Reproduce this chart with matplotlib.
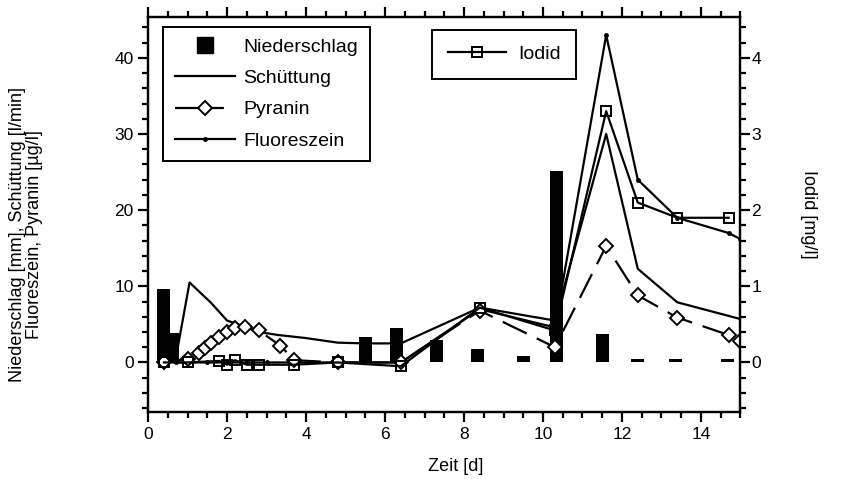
import matplotlib
matplotlib.use("Agg")
import matplotlib.pyplot as plt
from matplotlib.lines import Line2D
from matplotlib.ticker import MultipleLocator

plt.rcParams['font.family'] = ['Liberation Sans', 'DejaVu Sans']
plt.rcParams['axes.linewidth'] = 1.6

# Niederschlag [mm]
rain_t = [0.38, 0.63, 5.5, 6.3, 7.3, 8.35, 9.5, 10.35, 11.5, 12.4, 13.35, 14.67]
rain_v = [9.7, 3.9, 3.3, 4.5, 3.0, 1.8, 0.8, 25.1, 3.8, 0.4, 0.4, 0.4]

# Schüttung [l/min]
flow_t = [0.4, 0.7, 1.05, 1.6, 2.0, 2.4, 2.8, 3.3, 4.0, 4.8, 5.5, 6.4, 8.4, 10.3, 11.6, 12.4, 13.4, 15.0]
flow_v = [0.3, 0.5, 10.5, 7.8, 5.5, 4.8, 4.0, 3.6, 3.2, 2.6, 2.5, 2.5, 7.2, 5.5, 30.0, 12.3, 7.9, 5.7]

# Pyranin [µg/l]
pyr_t = [0.4, 1.0, 1.3, 1.45, 1.6, 1.8, 2.0, 2.2, 2.45, 2.8, 3.35, 3.7, 4.8, 6.4, 8.4, 10.3, 11.6, 12.4, 13.4, 14.7, 15.0]
pyr_v = [0.0, 0.5, 1.3, 1.9, 2.5, 3.3, 4.0, 4.5, 4.6, 4.2, 2.2, 0.3, 0.0, 0.0, 6.8, 2.0, 15.3, 8.8, 5.9, 3.6, 2.8]

# Fluoreszein [µg/l]
flu_t = [0.4, 0.7, 1.0, 1.5, 2.0, 2.5, 3.0, 3.7, 4.8, 6.4, 8.4, 10.3, 11.6, 12.4, 13.4, 14.7, 15.0]
flu_v = [0.3, 0.0, 0.0, 0.0, 0.0, 0.0, 0.0, 0.0, 0.0, 0.0, 7.0, 4.6, 43.0, 24.0, 19.0, 17.0, 16.2]

# Iodid [mg/l]
iod_t = [0.4, 1.0, 1.8, 2.0, 2.2, 2.5, 2.8, 3.7, 4.8, 6.4, 8.4, 10.3, 11.6, 12.4, 13.4, 14.7]
iod_v = [0.0, 0.0, 0.02, -0.03, 0.03, -0.03, -0.03, -0.03, 0.0, -0.05, 0.72, 0.42, 3.3, 2.1, 1.9, 1.9]

fig = plt.figure(figsize=(8.61, 4.79), dpi=100)
ax = fig.add_axes([0.172, 0.140, 0.688, 0.825])
ax2 = ax.twinx()

lw = 1.6
dash = (0, (12, 5))
ax.bar(rain_t, rain_v, width=0.33, color='black', zorder=1)
ax.plot(flow_t, flow_v, color='black', lw=lw, zorder=2)
ax.plot(pyr_t, pyr_v, color='black', lw=lw, ls=dash, marker='D', ms=7,
        mfc='white', mec='black', mew=1.4, zorder=3)
ax.plot(flu_t, flu_v, color='black', lw=lw, marker='o', ms=2.5, zorder=2)
ax2.plot(iod_t, iod_v, color='black', lw=lw, marker='s', ms=7.5,
         mfc='none', mec='black', mew=1.4, zorder=3)

ax.set_xlim(0, 15)
ax.set_ylim(-6.5, 45.4)
ax2.set_ylim(-0.65, 4.54)

ax.xaxis.set_major_locator(MultipleLocator(2))
ax.xaxis.set_minor_locator(MultipleLocator(0.5))
ax.yaxis.set_major_locator(MultipleLocator(10))
ax.yaxis.set_minor_locator(MultipleLocator(2))
ax2.yaxis.set_major_locator(MultipleLocator(1))
ax2.yaxis.set_minor_locator(MultipleLocator(0.2))

ax.tick_params(which='both', direction='out', top=True, width=1.6, labelsize=12.5)
ax.tick_params(which='major', length=7)
ax.tick_params(which='minor', length=4)
ax2.tick_params(which='both', direction='out', width=1.6, labelsize=12.5, pad=1)
ax2.tick_params(which='major', length=7)
ax2.tick_params(which='minor', length=4)

ax.set_xlabel('Zeit [d]', fontsize=13)
ax.xaxis.set_label_coords(0.52, -0.116)
ax.set_ylabel('Niederschlag [mm], Schüttung [l/min]\nFluoreszein, Pyranin [µg/l]',
              fontsize=13, linespacing=1.05)
ax.yaxis.set_label_coords(-0.177, 0.45)
ax2.set_ylabel('Iodid [mg/l]', fontsize=13, rotation=270, va='center')
ax2.yaxis.set_label_coords(1.115, 0.5)

handles = [
    Line2D([], [], ls='none', marker='s', ms=11, color='black'),
    Line2D([], [], color='black', lw=lw),
    Line2D([], [], color='black', lw=lw, ls=(0, (22, 13)), marker='D', ms=7,
           mfc='white', mec='black', mew=1.4),
    Line2D([], [], color='black', lw=lw, marker='o', ms=2.5),
]
labels = ['Niederschlag', 'Schüttung', 'Pyranin', 'Fluoreszein']
leg = ax.legend(handles, labels, loc='upper left', bbox_to_anchor=(0.025, 0.975),
                fontsize=14, handlelength=3.1, handletextpad=0.45, labelspacing=0.7,
                borderpad=0.6, fancybox=False, edgecolor='black', framealpha=1,
                borderaxespad=0)
leg.get_frame().set_linewidth(1.4)

leg2 = ax2.legend([Line2D([], [], color='black', lw=lw, marker='s', ms=7.5,
                          mfc='none', mec='black', mew=1.4)], ['Iodid'],
                  loc='upper left', bbox_to_anchor=(0.48, 0.967), fontsize=14,
                  handlelength=3.0, handletextpad=0.6, borderpad=0.8,
                  fancybox=False, edgecolor='black', framealpha=1, borderaxespad=0)
leg2.get_frame().set_linewidth(1.4)

fig.savefig('out.png', dpi=100)
